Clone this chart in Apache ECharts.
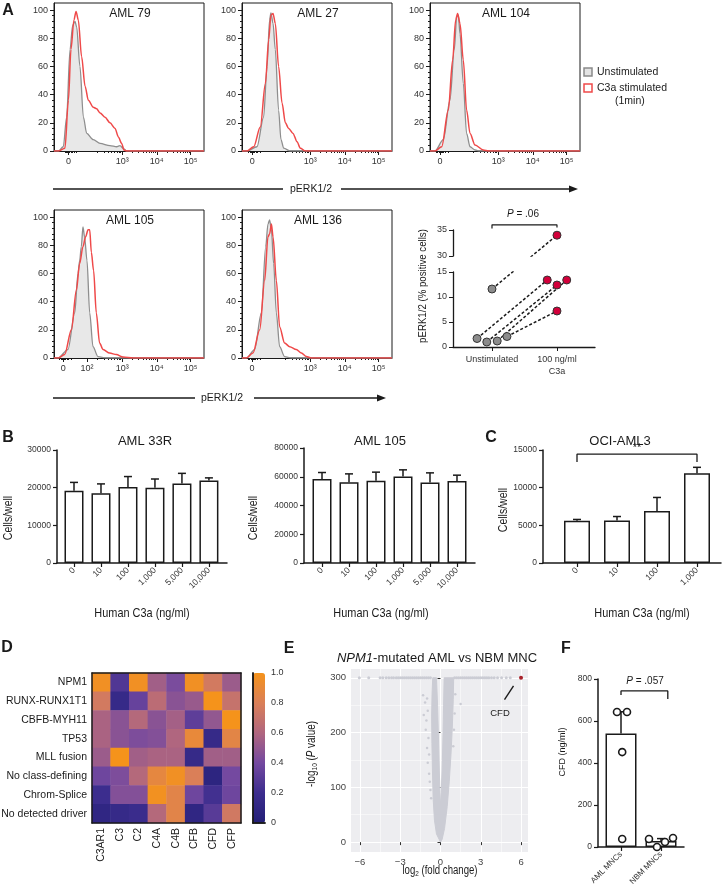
<!DOCTYPE html>
<html>
<head>
<meta charset="utf-8">
<title>C3a / pERK figure</title>
<script src="https://cdn.jsdelivr.net/npm/echarts@6/dist/echarts.min.js"></script>
<style>
  html, body { margin: 0; padding: 0; background: #fff; }
  #fig { width: 722px; height: 895px; }
</style>
</head>
<body>
<div id="fig"></div>
<script>
// ---------------- data ----------------

// A: flow histograms. x = display channel (0-1000 across the plot box), y = % of max
var histTitles = ['AML 79', 'AML 27', 'AML 104', 'AML 105', 'AML 136'];
var unstim79 = [[0,0],[29,0],[62,3],[84,24],[107,72],[124,89],[140,92],[151,88],[173,60],[196,24],[218,12.5],[262,8],[307,5.4],[373,3.8],[418,3],[440,3.8],[462,1.9],[484,0],[1000,0]];
var stim79 = [[0,0],[29,0],[73,2],[96,36],[113,72],[133,93],[147,99],[162,93],[184,67],[207,46],[229,36],[262,31],[284,30],[307,27],[340,24],[373,20],[407,16],[429,10],[451,5.4],[467,0.7],[484,0],[1000,0]];
var unstim27 = [[0,0],[33,0],[100,3],[144,24],[167,60],[184,93],[193,98],[207,90.5],[222,72],[244,29],[260,8],[278,2],[322,0],[1000,0]];
var stim27 = [[0,0],[33,0],[78,3],[122,17],[156,48],[178,79],[193,96.5],[207,97.6],[222,90.5],[244,60],[267,34],[289,20],[311,16],[340,12.5],[367,6.6],[389,1.9],[422,0],[1000,0]];
var unstim104 = [[0,0],[33,0],[89,8],[133,36],[162,72],[178,95],[189,96.5],[200,83],[222,48],[244,12.5],[267,3],[300,0.7],[333,0],[1000,0]];
var stim104 = [[0,0],[33,0],[78,3],[122,29],[151,64.5],[171,93],[184,97.6],[200,90.5],[222,64.5],[244,29],[267,12.5],[300,4.3],[356,0.7],[389,0],[1000,0]];
var unstim105 = [[0,0],[27,0],[93,6],[138,32],[160,60],[171,69],[182,79],[193,93],[204,86],[220,69],[238,32],[260,8],[293,1],[349,0],[1000,0]];
var stim105 = [[0,0],[27,0],[71,2.4],[116,20],[149,48],[171,67],[193,79],[211,86],[227,91],[238,91],[249,75],[264,62],[282,32],[304,10.6],[327,6],[371,3.5],[416,2.4],[460,0.7],[527,0],[1000,0]];
var unstim136 = [[0,0],[29,0],[84,6],[129,32],[158,79],[173,95],[184,98],[196,91],[211,67],[229,32],[251,8],[284,1],[329,0],[1000,0]];
var stim136 = [[0,0],[29,0],[73,3.5],[118,20],[151,55],[173,86],[184,88],[196,95],[207,86],[229,55],[251,22],[284,10.6],[318,8],[362,6],[396,3.5],[429,1],[462,0],[1000,0]];
var histUnstim = [unstim79, unstim27, unstim104, unstim105, unstim136];
var histStim = [stim79, stim27, stim104, stim105, stim136];
var histZero = [96, 68, 67, 62, 67];                 // channel of the "0" tick
var histDecades = [[3,4,5],[3,4,5],[3,4,5],[2,3,4,5],[3,4,5]];
var decadeChannel = {2: 220, 3: 455, 4: 685, 5: 910};
var histYTicks = [0, 20, 40, 60, 80, 100];

// A: pERK1/2 % positive cells
var perkGroups = ['Unstimulated', '100 ng/ml\nC3a'];
var perkUnstim = [11.6, 1.7, 1.0, 1.2, 2.1];
var perkStim = [34.0, 13.4, 12.4, 13.4, 7.2];
var perkUnstimX = [1.0, 0.77, 0.92, 1.08, 1.23];
var perkStimX = [2.0, 1.85, 2.0, 2.15, 2.0];
var perkBracket = [[1, 35.3], [1, 36.0], [2, 36.0], [2, 35.5]];

// B / C: cells per well
var doseB = ['0', '10', '100', '1,000', '5,000', '10,000'];
var aml33rMean = [19200, 18500, 20200, 20000, 21100, 21900];
var aml33rErr = [2200, 2500, 2750, 2300, 2700, 700];
var aml105Mean = [58500, 56200, 57300, 60200, 56000, 57100];
var aml105Err = [4450, 5800, 5900, 4600, 6700, 4000];
var doseC = ['0', '10', '100', '1,000'];
var ociMean = [5600, 5650, 6900, 11900];
var ociErr = [180, 520, 1800, 800];
var ociBracket = [[1, 13400], [1, 14450], [4, 14450], [4, 13400]];

// D: heatmap
var hmRows = ['NPM1', 'RUNX-RUNX1T1', 'CBFB-MYH11', 'TP53', 'MLL fusion', 'No class-defining', 'Chrom-Splice', 'No detected driver'];
var hmCols = ['C3AR1', 'C3', 'C2', 'C4A', 'C4B', 'CFB', 'CFD', 'CFP'];
var hmVals = [
  [0.97, 0.27, 0.97, 0.55, 0.42, 0.97, 0.76, 0.53],
  [0.76, 0.15, 0.35, 0.65, 0.47, 0.52, 1.00, 0.70],
  [0.58, 0.47, 0.62, 0.47, 0.56, 0.32, 0.50, 1.00],
  [0.58, 0.47, 0.43, 0.45, 0.60, 0.90, 0.15, 0.86],
  [0.53, 1.00, 0.55, 0.58, 0.58, 0.15, 0.55, 0.55],
  [0.38, 0.43, 0.62, 0.88, 0.97, 0.80, 0.08, 0.40],
  [0.20, 0.45, 0.45, 0.98, 0.85, 0.38, 0.22, 0.38],
  [0.10, 0.15, 0.18, 0.62, 0.85, 0.10, 0.30, 0.75]
];
var hmScaleTicks = [0, 0.2, 0.4, 0.6, 0.8, 1.0];

// E: volcano, NPM1-mutated AML vs NBM MNC
var volcanoCore = [[0,0],[-0.3,15],[-0.45,40],[-0.55,80],[-0.6,130],[-0.64,180],[-0.66,230],[-0.63,270],[-0.58,300],
  [-0.3,300],[-0.22,250],[-0.15,190],[-0.09,130],[-0.04,90],[0,65],[0.05,90],[0.12,130],[0.18,190],[0.23,250],[0.27,300],
  [0.98,300],[0.95,260],[0.88,210],[0.78,160],[0.65,110],[0.5,65],[0.3,25],[0.12,5]];
var volcanoCapX = [-6.05,-5.35,-4.5,-4.3,-4.05,-3.85,-3.65,-3.5,-3.3,-3.15,-3.0,-2.85,-2.7,-2.55,-2.4,-2.25,-2.1,-1.95,-1.8,-1.65,-1.5,-1.35,-1.2,-1.05,-0.9,-0.75,
  1.05,1.2,1.35,1.5,1.65,1.8,1.95,2.1,2.25,2.4,2.55,2.7,2.85,3.0,3.15,3.3,3.45,3.6,3.8,4.0,4.25,4.55,4.9,5.2];
var volcanoSparse = [[-1.3,268],[-1.15,255],[-1.0,262],[-1.25,232],[-1.05,222],[-0.95,240],[-1.1,205],[-0.9,190],[-1.0,172],
  [-0.85,160],[-0.95,145],[-0.85,125],[-0.8,110],[-0.75,95],[-0.7,80],[1.5,252],[1.1,270],[1.05,235],[1.0,205],[0.95,175]];
var volcanoCFD = [[6.0, 300]];
var cfdArrow = [[4.77, 260], [5.44, 285]];
var volcanoXTicks = [-6, -3, 0, 3, 6];
var volcanoYTicks = [0, 100, 200, 300];

// F: CFD ng/ml
var cfdGroups = ['AML MNCs', 'NBM MNCs'];
var cfdMean = [540, 28];
var cfdErr = [104, 12];
var cfdAml = [643, 643, 452, 38];
var cfdAmlX = [0.9, 1.15, 1.03, 1.03];
var cfdNbm = [38, 0, 24, 43];
var cfdNbmX = [1.7, 1.9, 2.1, 2.3];
var cfdBracket = [[1, 724], [1, 743], [2.17, 743], [2.17, 705]];

// ---------------- build ----------------
var FONT = '"Liberation Sans", Arial, Helvetica, sans-serif';
var INK = '#1a1a1a';
var SUP = {2: '\u00b2', 3: '\u00b3', 4: '\u2074', 5: '\u2075'};
function plainNum(v) { return String(v); }

var grids = [], xAxes = [], yAxes = [], series = [], graphics = [];
function addGrid(g) { g.outerBoundsMode = 'none'; grids.push(g); return grids.length - 1; }
function addX(a) { xAxes.push(a); return xAxes.length - 1; }
function addY(a) { yAxes.push(a); return yAxes.length - 1; }
// o.sx squeezes the text horizontally (stands in for the condensed face of the original)
function text(x, y, s, size, o) {
  o = o || {};
  return {type: 'text', x: x, y: y, rotation: o.rot || 0, scaleX: o.sx || 1, z: 100, silent: true,
    style: {text: s, fontSize: size, fontFamily: FONT, fontWeight: o.bold ? 'bold' : 'normal',
      fontStyle: o.italic ? 'italic' : 'normal', fill: o.fill || INK,
      textAlign: o.align || 'center', textVerticalAlign: 'middle', align: o.align || 'center', verticalAlign: 'middle',
      rich: o.rich}};
}
function hline(x1, y1, x2, y2, w) {
  return {type: 'line', z: 100, silent: true, shape: {x1: x1, y1: y1, x2: x2, y2: y2}, style: {stroke: INK, lineWidth: w || 1.3}};
}
function plainAxis(extra) {
  var a = {type: 'value', axisLine: {show: false}, axisTick: {show: false}, axisLabel: {show: false}, splitLine: {show: false}};
  for (var k in extra) a[k] = extra[k];
  return a;
}

// ---- A: histograms
histTitles.forEach(function (title, i) {
  var col = i < 3 ? i : i - 3;
  var left = 54 + col * 188, top = i < 3 ? 3 : 210;
  var gi = addGrid({left: left, top: top, width: 150, height: 148, show: true, borderColor: INK, borderWidth: 1, backgroundColor: 'rgba(0,0,0,0)'});
  var major = [histZero[i]], names = {};
  names[histZero[i]] = '0';
  histDecades[i].forEach(function (d) { major.push(decadeChannel[d]); names[decadeChannel[d]] = '10' + SUP[d]; });
  var minor = [];
  [2, 3, 4].forEach(function (d) {
    for (var k = 2; k <= 9; k++) minor.push(decadeChannel[d] + Math.log10(k) * (decadeChannel[d + 1] - decadeChannel[d]));
  });
  [-24, -16, -8, 8, 16, 24, 36, 52].forEach(function (o) { minor.push(histZero[i] + o); });
  var yMinor = [];
  for (var v = 4; v < 100; v += 4) if (v % 20) yMinor.push(v);

  var xi = addX({gridIndex: gi, type: 'value', min: 0, max: 1000, position: 'bottom',
    axisLine: {show: true, lineStyle: {color: INK, width: 1}},
    axisTick: {show: true, customValues: major, length: 4, lineStyle: {color: INK}},
    axisLabel: {customValues: major, formatter: function (v) { return names[v] || ''; }, fontSize: 9, color: '#333', margin: 6},
    splitLine: {show: false}});
  addX(plainAxis({gridIndex: gi, min: 0, max: 1000, position: 'bottom',
    axisTick: {show: true, customValues: minor, length: 2, lineStyle: {color: INK}}}));
  var yi = addY({gridIndex: gi, type: 'value', min: 0, max: 105, position: 'left',
    axisLine: {show: true, lineStyle: {color: INK, width: 1}},
    axisTick: {show: true, customValues: histYTicks, length: 4, lineStyle: {color: INK}},
    axisLabel: {customValues: histYTicks, fontSize: 9, color: '#333', margin: 6},
    splitLine: {show: false}});
  addY(plainAxis({gridIndex: gi, min: 0, max: 105, position: 'left',
    axisTick: {show: true, customValues: yMinor, length: 2, lineStyle: {color: INK}}}));

  series.push({type: 'line', name: 'Unstimulated', xAxisIndex: xi, yAxisIndex: yi, data: histUnstim[i],
    symbol: 'none', smooth: 0.3, smoothMonotone: 'x', silent: true, z: 2,
    lineStyle: {color: '#8e8e8e', width: 1.3}, areaStyle: {color: '#e8e8e8', opacity: 1}});
  series.push({type: 'line', name: 'C3a stimulated', xAxisIndex: xi, yAxisIndex: yi, data: histStim[i],
    symbol: 'none', smooth: 0.3, smoothMonotone: 'x', silent: true, z: 3,
    lineStyle: {color: '#ef4949', width: 1.5}});
  graphics.push(text(left + 76, top + 11, title, 12));
});

// legend + pERK arrows
graphics.push({type: 'rect', z: 100, shape: {x: 584, y: 68, width: 8, height: 8}, style: {fill: '#e3e3e3', stroke: '#8a8a8a', lineWidth: 1.5}});
graphics.push(text(597, 72, 'Unstimulated', 10.5, {align: 'left'}));
graphics.push({type: 'rect', z: 100, shape: {x: 584, y: 84, width: 8, height: 8}, style: {fill: '#fff', stroke: '#ef4949', lineWidth: 1.5}});
graphics.push(text(597, 88, 'C3a stimulated', 10.5, {align: 'left'}));
graphics.push(text(615, 101, '(1min)', 10.5, {align: 'left'}));
function arrowAxis(x1, x2, y, gapL, gapR, cx) {
  graphics.push(hline(x1, y, gapL, y));
  graphics.push(hline(gapR, y, x2 - 6, y));
  graphics.push({type: 'polygon', z: 100, shape: {points: [[x2 - 9, y - 3.5], [x2, y], [x2 - 9, y + 3.5]]}, style: {fill: INK}});
  graphics.push(text(cx, y, 'pERK1/2', 10.5));
}
arrowAxis(53, 578, 189, 283, 341, 311);
arrowAxis(53, 386, 398, 195, 254, 222);

// ---- A: paired scatter with broken y axis
var BREAK_GAP = (272 - 256) / 5;
function loU(v) { return v <= 15 ? v : 15 + BREAK_GAP + (v - 30) * 5.2 / 5; }
function upU(v) { return v >= 30 ? v : 30 - (15 + BREAK_GAP - v) * 5 / 5.2; }
var gUp = addGrid({left: 453, top: 230, width: 142, height: 26});
var gLo = addGrid({left: 453, top: 272, width: 142, height: 75});
var xUp = addX(plainAxis({gridIndex: gUp, min: 0.4, max: 2.585}));
var yUp = addY({gridIndex: gUp, type: 'value', min: 30, max: 35, interval: 5, position: 'left',
  axisLine: {show: true, lineStyle: {color: INK, width: 1.3}}, axisTick: {show: true, length: 4, lineStyle: {color: INK}},
  axisLabel: {fontSize: 9, color: '#333', margin: 6}, splitLine: {show: false}});
var xLo = addX({gridIndex: gLo, type: 'value', min: 0.4, max: 2.585, position: 'bottom',
  axisLine: {show: true, lineStyle: {color: INK, width: 1.3}},
  axisTick: {show: true, customValues: [1, 2], length: 4, lineStyle: {color: INK}},
  axisLabel: {customValues: [1, 2], formatter: function (v) { return perkGroups[Math.round(v) - 1]; }, fontSize: 9, lineHeight: 12, color: '#333', margin: 7},
  splitLine: {show: false}});
var yLo = addY({gridIndex: gLo, type: 'value', min: 0, max: 15, interval: 5, position: 'left',
  axisLine: {show: true, lineStyle: {color: INK, width: 1.3}}, axisTick: {show: true, length: 4, lineStyle: {color: INK}},
  axisLabel: {fontSize: 9, color: '#333', margin: 6}, splitLine: {show: false}});
var dash = {color: INK, width: 1.5, type: [3, 2]};
perkUnstim.forEach(function (u, i) {
  var s = perkStim[i];
  series.push({type: 'line', xAxisIndex: xLo, yAxisIndex: yLo, symbol: 'none', clip: true, silent: true, z: 1, lineStyle: dash,
    data: [[perkUnstimX[i], loU(u)], [perkStimX[i], loU(s)]]});
  if (Math.max(u, s) >= 30) {
    series.push({type: 'line', xAxisIndex: xUp, yAxisIndex: yUp, symbol: 'none', clip: true, silent: true, z: 1, lineStyle: dash,
      data: [[perkUnstimX[i], upU(u)], [perkStimX[i], upU(s)]]});
  }
});
function perkPoints(vals, xs, hi) {
  var out = [];
  vals.forEach(function (v, i) { if ((v >= 30) === hi) out.push([xs[i], v]); });
  return out;
}
[[perkUnstim, perkUnstimX, '#8c8c8c'], [perkStim, perkStimX, '#d2003a']].forEach(function (g) {
  series.push({type: 'scatter', xAxisIndex: xLo, yAxisIndex: yLo, data: perkPoints(g[0], g[1], false), symbolSize: 8, clip: false, z: 5,
    itemStyle: {color: g[2], borderColor: '#333', borderWidth: 1, opacity: 1}});
  series.push({type: 'scatter', xAxisIndex: xUp, yAxisIndex: yUp, data: perkPoints(g[0], g[1], true), symbolSize: 8, clip: false, z: 5,
    itemStyle: {color: g[2], borderColor: '#333', borderWidth: 1, opacity: 1}});
});
series.push({type: 'line', xAxisIndex: xUp, yAxisIndex: yUp, data: perkBracket, symbol: 'none', clip: false, silent: true,
  lineStyle: {color: INK, width: 1.2}});
graphics.push(text(523, 214, '{i|P} = .06', 10, {rich: {i: {fontStyle: 'italic', fontSize: 10, fontFamily: FONT}}}));
graphics.push(text(423, 286, 'pERK1/2 (% positive cells)', 11.5, {rot: Math.PI / 2, sx: 0.84}));

// ---- bar panels (B, C, F)
function barPanel(o) {
  var gi = addGrid({left: o.left, top: o.top, width: o.width, height: o.height});
  var idx = o.cats.map(function (c, k) { return k + 1; });
  var xi = addX({gridIndex: gi, type: 'value', min: o.xmin, max: o.xmax, position: 'bottom',
    axisLine: {show: true, lineStyle: {color: INK, width: 1.5}},
    axisTick: {show: true, customValues: idx, length: 4, lineStyle: {color: INK, width: 1.2}},
    axisLabel: {customValues: idx, rotate: 45, fontSize: o.labelSize || 8.5, color: '#333', margin: 6,
      formatter: function (v) { return o.cats[Math.round(v) - 1]; }},
    splitLine: {show: false}});
  var yi = addY({gridIndex: gi, type: 'value', min: 0, max: o.ymax, interval: o.yint, position: 'left',
    axisLine: {show: true, lineStyle: {color: INK, width: 1.5}},
    axisTick: {show: true, length: 4, lineStyle: {color: INK, width: 1.2}},
    axisLabel: {fontSize: 8.5, color: '#333', margin: 6, formatter: plainNum}, splitLine: {show: false}});
  series.push({type: 'bar', xAxisIndex: xi, yAxisIndex: yi, barWidth: o.barW, silent: true, z: 2,
    data: idx.map(function (k) { return [k, o.means[k - 1]]; }),
    itemStyle: {color: '#fff', borderColor: INK, borderWidth: 1.5}});
  series.push({type: 'custom', xAxisIndex: xi, yAxisIndex: yi, silent: true, z: 3,
    data: idx.map(function (k) { return [k, o.means[k - 1], o.means[k - 1] + o.errs[k - 1]]; }),
    renderItem: function (params, api) {
      var p0 = api.coord([api.value(0), api.value(1)]);
      var p1 = api.coord([api.value(0), api.value(2)]);
      var st = {stroke: INK, lineWidth: 1.5};
      return {type: 'group', children: [
        {type: 'line', shape: {x1: p0[0], y1: p0[1], x2: p1[0], y2: p1[1]}, style: st},
        {type: 'line', shape: {x1: p1[0] - o.capW / 2, y1: p1[1], x2: p1[0] + o.capW / 2, y2: p1[1]}, style: st}
      ]};
    }});
  return {xi: xi, yi: yi};
}
barPanel({left: 57, top: 450, width: 170, height: 113, xmin: 0.37, xmax: 6.67, ymax: 30000, yint: 10000,
  cats: doseB, means: aml33rMean, errs: aml33rErr, barW: 19, capW: 8});
barPanel({left: 304, top: 448, width: 171, height: 115, xmin: 0.333, xmax: 6.667, ymax: 80000, yint: 20000,
  cats: doseB, means: aml105Mean, errs: aml105Err, barW: 19, capW: 8});
var pc = barPanel({left: 543, top: 450, width: 178, height: 113, xmin: 0.15, xmax: 4.6, ymax: 15000, yint: 5000,
  cats: doseC, means: ociMean, errs: ociErr, barW: 26, capW: 8});
series.push({type: 'line', xAxisIndex: pc.xi, yAxisIndex: pc.yi, data: ociBracket, symbol: 'none', clip: false, silent: true,
  lineStyle: {color: INK, width: 1.3}});
graphics.push(text(637, 448, '**', 11));

graphics.push(text(145, 441, 'AML 33R', 13));
graphics.push(text(380, 441, 'AML 105', 13));
graphics.push(text(620, 441, 'OCI-AML3', 13));
graphics.push(text(9, 518, 'Cells/well', 12.5, {rot: Math.PI / 2, sx: 0.84}));
graphics.push(text(254, 518, 'Cells/well', 12.5, {rot: Math.PI / 2, sx: 0.84}));
graphics.push(text(504, 510, 'Cells/well', 12.5, {rot: Math.PI / 2, sx: 0.84}));
graphics.push(text(142, 613, 'Human C3a (ng/ml)', 13, {sx: 0.84}));
graphics.push(text(381, 613, 'Human C3a (ng/ml)', 13, {sx: 0.84}));
graphics.push(text(642, 613, 'Human C3a (ng/ml)', 13, {sx: 0.84}));

// F
var pf = barPanel({left: 598, top: 679, width: 86, height: 168, xmin: 0.425, xmax: 2.575, ymax: 800, yint: 200,
  cats: cfdGroups, means: cfdMean, errs: cfdErr, barW: 31, capW: 8, labelSize: 8});
[[cfdAml, cfdAmlX], [cfdNbm, cfdNbmX]].forEach(function (g) {
  series.push({type: 'scatter', xAxisIndex: pf.xi, yAxisIndex: pf.yi, symbolSize: 7, clip: false, silent: true, z: 6,
    data: g[0].map(function (v, k) { return [g[1][k], v]; }),
    itemStyle: {color: '#fff', borderColor: INK, borderWidth: 1.6, opacity: 1}});
});
series.push({type: 'line', xAxisIndex: pf.xi, yAxisIndex: pf.yi, data: cfdBracket, symbol: 'none', clip: false, silent: true,
  lineStyle: {color: INK, width: 1.3}});
graphics.push(text(645, 681, '{i|P} = .057', 10, {rich: {i: {fontStyle: 'italic', fontSize: 10, fontFamily: FONT}}}));
graphics.push(text(563, 752, 'CFD (ng/ml)', 9, {rot: Math.PI / 2}));

// ---- D: heatmap
var gH = addGrid({left: 92, top: 673, width: 149, height: 150});
var edge = {show: true, lineStyle: {color: INK, width: 1.5}};
var xH = addX({gridIndex: gH, type: 'category', data: hmCols, position: 'bottom', z: 10, axisLine: edge, axisTick: {show: false},
  axisLabel: {rotate: 90, fontSize: 10.5, color: INK, margin: 5}, splitLine: {show: false}, splitArea: {show: false}});
var yH = addY({gridIndex: gH, type: 'category', data: hmRows, inverse: true, position: 'left', z: 10, axisLine: edge, axisTick: {show: false},
  axisLabel: {fontSize: 10.5, color: INK, margin: 5}, splitLine: {show: false}, splitArea: {show: false}});
addX(plainAxis({gridIndex: gH, min: 0, max: 1, position: 'top', z: 10, axisLine: edge}));
addY(plainAxis({gridIndex: gH, min: 0, max: 1, position: 'right', z: 10, axisLine: edge}));
var hmData = [];
hmVals.forEach(function (row, r) { row.forEach(function (v, c) { hmData.push([c, r, v]); }); });
var hmSeries = series.length;
series.push({type: 'heatmap', xAxisIndex: xH, yAxisIndex: yH, data: hmData, silent: true, z: 2});

// colour bar frame + labels
var gC = addGrid({left: 253, top: 673, width: 12, height: 150});
addX(plainAxis({gridIndex: gC, min: 0, max: 1, position: 'bottom', z: 10, axisLine: edge}));
addX(plainAxis({gridIndex: gC, min: 0, max: 1, position: 'top', z: 10, axisLine: edge}));
addY(plainAxis({gridIndex: gC, min: 0, max: 1, position: 'left', z: 10, axisLine: edge}));
addY({gridIndex: gC, type: 'value', min: 0, max: 1, position: 'right', z: 10, axisLine: edge, axisTick: {show: false},
  axisLabel: {customValues: hmScaleTicks, fontSize: 9, color: '#333', margin: 6,
    formatter: function (v) { return v === 0 ? '0' : v.toFixed(1); }}, splitLine: {show: false}});

// ---- E: volcano
var gV = addGrid({left: 351, top: 669, width: 177, height: 183, show: true, backgroundColor: '#ededf0', borderWidth: 0});
var xV = addX({gridIndex: gV, type: 'value', min: -6.67, max: 6.52, position: 'bottom',
  axisLine: {show: false}, axisTick: {show: true, customValues: volcanoXTicks, length: 3, lineStyle: {color: '#333'}},
  axisLabel: {customValues: volcanoXTicks, fontSize: 9.5, color: '#444', margin: 5,
    formatter: function (v) { return v < 0 ? '\u2212' + (-v) : String(v); }},
  splitLine: {show: true, lineStyle: {color: '#fff', width: 1}}});
addX(plainAxis({gridIndex: gV, min: -6.67, max: 6.52, position: 'bottom',
  axisTick: {show: false, customValues: [-4.5, -1.5, 1.5, 4.5]}, splitLine: {show: true, lineStyle: {color: '#fff', width: 0.5}}}));
var yV = addY({gridIndex: gV, type: 'value', min: -18, max: 316, position: 'left',
  axisLine: {show: false}, axisTick: {show: true, customValues: volcanoYTicks, length: 3, lineStyle: {color: '#333'}},
  axisLabel: {customValues: volcanoYTicks, fontSize: 9.5, color: '#444', margin: 5},
  splitLine: {show: true, lineStyle: {color: '#fff', width: 1}}});
addY(plainAxis({gridIndex: gV, min: -18, max: 316, position: 'left',
  axisTick: {show: false, customValues: [50, 150, 250]}, splitLine: {show: true, lineStyle: {color: '#fff', width: 0.5}}}));
series.push({type: 'custom', xAxisIndex: xV, yAxisIndex: yV, data: [0], silent: true, z: 2,
  renderItem: function (params, api) {
    return {type: 'polygon', shape: {points: volcanoCore.map(function (p) { return api.coord(p); })},
      style: {fill: '#cbccd4', stroke: '#cbccd4', lineWidth: 1}};
  }});
series.push({type: 'scatter', xAxisIndex: xV, yAxisIndex: yV, symbolSize: 3, silent: true, z: 3,
  data: volcanoCapX.map(function (x) { return [x, 300]; }), itemStyle: {color: '#cbccd4', opacity: 1}});
series.push({type: 'scatter', xAxisIndex: xV, yAxisIndex: yV, symbolSize: 2.5, silent: true, z: 3,
  data: volcanoSparse, itemStyle: {color: '#cbccd4', opacity: 1}});
series.push({type: 'scatter', xAxisIndex: xV, yAxisIndex: yV, symbolSize: 4, silent: true, z: 4,
  data: volcanoCFD, itemStyle: {color: '#a8232b', opacity: 1},
  markLine: {silent: true, symbol: ['none', 'arrow'], symbolSize: [0, 7], label: {show: false},
    lineStyle: {color: INK, width: 1.4, type: 'solid'}, emphasis: {disabled: true},
    data: [[{coord: cfdArrow[0]}, {coord: cfdArrow[1]}]]}});
graphics.push(text(500, 713, 'CFD', 9.5));
graphics.push(text(437, 658, '{i|NPM1}-mutated AML vs NBM MNC', 13,
  {rich: {i: {fontStyle: 'italic', fontSize: 13, fontFamily: FONT}}}));
graphics.push(text(312, 754, '-log{s|10} ({i|P} value)', 12, {rot: Math.PI / 2, sx: 0.82,
  rich: {s: {fontSize: 8, fontFamily: FONT, verticalAlign: 'bottom', lineHeight: 14},
         i: {fontStyle: 'italic', fontSize: 12, fontFamily: FONT}}}));
graphics.push(text(440, 871, 'log{s|2} (fold change)', 12, {sx: 0.8,
  rich: {s: {fontSize: 8, fontFamily: FONT, verticalAlign: 'bottom', lineHeight: 14}}}));

// panel letters
[['A', 8, 11], ['B', 8, 438], ['C', 491, 438], ['D', 7, 648], ['E', 289, 649], ['F', 566, 649]].forEach(function (l) {
  graphics.push(text(l[1], l[2], l[0], 16, {bold: true}));
});

var chart = echarts.init(document.getElementById('fig'));
chart.setOption({
  animation: false,
  textStyle: {fontFamily: FONT},
  grid: grids,
  xAxis: xAxes,
  yAxis: yAxes,
  visualMap: [{type: 'continuous', min: 0, max: 1, dimension: 2, seriesIndex: hmSeries, show: true, calculable: false,
    left: 253, top: 673, itemWidth: 12, itemHeight: 150, padding: 0, text: null,
    inRange: {color: ['#231f77', '#3c2d8e', '#7449a0', '#b0667f', '#da7f58', '#f5931b']}}],
  series: series,
  graphic: graphics
});
</script>
</body>
</html>
